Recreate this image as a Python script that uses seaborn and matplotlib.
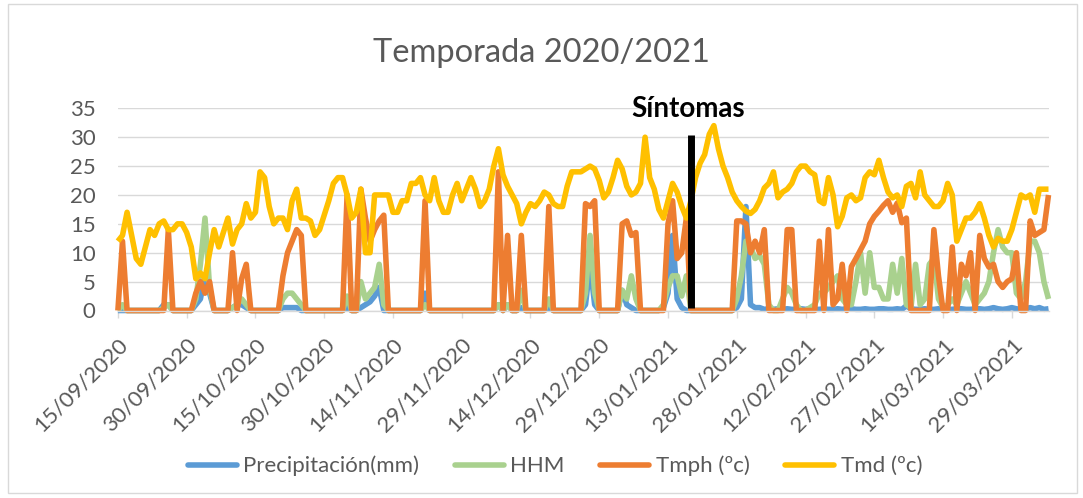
import matplotlib
matplotlib.use("Agg")
import matplotlib.pyplot as plt
import numpy as np
import pandas as pd
import seaborn as sns
from matplotlib.patches import Rectangle
from matplotlib.lines import Line2D

# ---------------- data ----------------
start_date = "2020-09-15"

precip = [
    0, 0, 0, 0, 0, 0, 0, 0, 0, 0,
    1, 1, 0, 0, 0, 0, 0, 1, 2, 6,
    3, 0, 0, 0, 0, 0.5, 1, 1, 0.5, 0,
    0, 0, 0, 0, 0, 0, 0.5, 0.5, 0.5, 0.5,
    0, 0, 0, 0, 0, 0, 0, 0, 0, 0,
    0.5, 0, 0, 0.5, 1, 1.5, 2.5, 4, 0, 0,
    0, 0, 0, 0, 0, 0, 0, 3, 0, 0,
    0, 0, 0, 0, 0, 0, 0, 0, 0, 0,
    0, 0, 0, 1, 0, 1, 0, 0, 0.5, 0,
    0, 0, 0, 0, 0.5, 0, 0, 0, 0, 0,
    0, 0, 1, 8, 1, 0, 0, 0, 0, 0,
    3.5, 1, 0.5, 0, 0, 0, 0, 0, 0, 0.5,
    3, 13, 2, 0.5, 0, 0, 0, 0, 0, 0,
    0, 0, 0, 0, 0, 0.5, 2, 18, 1, 0.5,
    0.5, 0.2, 0.3, 0.2, 0.3, 0.2, 0.3, 0.2, 0.2, 0.3,
    0.2, 0.3, 0.2, 0.2, 0.3, 0.2, 0.2, 0.3, 0.2, 0.3,
    0.3, 0.2, 0.2, 0.3, 0.2, 0.2, 0.3, 0.3, 0.2, 0.2,
    0.3, 0.2, 0.8, 0.3, 0.2, 0.2, 0.3, 0.2, 0.2, 0.3,
    0.3, 0.2, 0.2, 0.3, 0.3, 0.2, 0.2, 0.3, 0.3, 0.2,
    0.3, 0.5, 0.3, 0.2, 0.3, 0.5, 0.3, 0.2, 0.3, 0.5,
    0.3, 0.5, 0.2, 0.3,
]

hhm = [
    0, 1, 0, 0, 0, 0, 0, 0, 0, 0,
    0.5, 1, 0, 0, 0, 0, 0, 2, 8, 16,
    4, 0, 0, 0, 0, 0.5, 1, 2, 1, 0,
    0, 0, 0, 0, 0, 0, 2, 3, 3, 2,
    1, 0, 0, 0, 0, 0, 0, 0, 0, 0,
    2.5, 0, 0, 5, 2, 3, 4, 8, 1, 0,
    0, 0, 0, 0, 0, 0, 0, 1, 0, 0,
    0, 0, 0, 0, 0, 0, 0, 0, 0, 0,
    0, 0, 0, 1, 0, 1, 0, 0, 3.5, 0,
    0, 0, 0, 0, 2, 0, 0, 0, 0, 0,
    0, 0, 3, 13, 3, 0, 0, 0, 0, 0,
    3.5, 2, 6, 2, 0, 0, 0, 0, 0, 1,
    4, 6, 6, 2.5, 6, 0, 0, 0, 0, 0,
    0, 0, 0, 0, 0, 2, 6, 12, 11, 9,
    9.5, 8, 1, 0, 0, 2, 4, 3, 1, 0,
    0, 0.5, 1, 3, 3, 4, 5, 6, 2, 1,
    1, 5, 10, 3, 10, 4, 4, 2, 2, 8,
    3, 9, 1, 0.5, 8, 1, 2, 8, 9, 2,
    0.5, 1, 2, 1, 3, 5, 3, 1, 2, 3,
    5, 10, 14, 11, 10, 10, 3, 2, 5, 12,
    12, 10, 5, 2,
]

tmph = [
    0, 12, 0, 0, 0, 0, 0, 0, 0, 0,
    0, 14, 0, 0, 0, 0, 0, 3, 5, 3,
    5, 0, 0, 0, 0, 10, 0, 5.5, 8, 0,
    0, 0, 0, 0, 0, 0, 6, 10, 12, 14,
    13, 0, 0, 0, 0, 0, 0, 0, 0, 0,
    20, 0, 0, 21, 16, 12, 14, 15.5, 16.5, 0,
    0, 0, 0, 0, 0, 0, 0, 19, 0, 0,
    0, 0, 0, 0, 0, 0, 0, 0, 0, 0,
    0, 0, 0, 24, 0, 13, 0, 0, 13, 0,
    0, 0, 0, 0, 18, 0, 0, 0, 0, 0,
    0, 0, 18.5, 18, 19, 0, 0, 0, 0, 0,
    15, 15.5, 13, 13.5, 0, 0, 0, 0, 0, 0,
    15, 19, 9, 10, 16, 0, 0, 0, 0, 0,
    0, 0, 0, 0, 0, 15.5, 15.5, 15, 10, 12,
    10, 14, 0, 0, 0, 0, 14, 14, 0, 0,
    0, 0, 0, 12, 0, 14, 1, 2, 8, 0,
    7.6, 9, 10.5, 12, 15, 16.3, 17.2, 18.2, 19, 17,
    18.6, 15.2, 16, 0, 0, 0, 0, 0, 14, 6,
    0, 0, 11, 0, 8, 6, 10, 0, 13, 9,
    7.5, 8, 5, 4, 5, 5.5, 10, 0, 0, 15.5,
    13, 13.5, 14, 20,
]

tmd = [
    12, 13, 17, 13, 9, 8, 11, 14, 13, 15,
    15.5, 14, 14, 15, 15, 13.5, 11, 5.5, 6.5, 5.5,
    10, 14, 11, 13.5, 16, 11.5, 14, 15, 18.5, 16,
    17, 24, 23, 18, 15, 16, 16, 14, 19, 21,
    16, 16, 15.5, 13, 14, 16.5, 19, 22, 23, 23,
    20, 16, 17, 21, 10, 10, 20, 20, 20, 20,
    17, 17, 19, 19, 22, 22, 23, 20, 19, 23,
    19, 17, 17, 20, 22, 19, 21, 23, 21, 18,
    19, 21, 25, 28, 23.5, 21.5, 20, 18.5, 15, 17,
    18.5, 18, 19, 20.5, 20, 18.5, 18, 18, 21.5, 24,
    24, 24, 24.5, 25, 24.5, 22.5, 19.5, 20.5, 23, 26,
    24.5, 21.5, 20, 20.5, 22, 30, 23, 21, 17.5, 16,
    19, 22, 20.5, 18, 16, 19, 23, 25.5, 27, 30.5,
    32, 28, 25, 23, 20.5, 19, 18, 17.2, 16.8, 17.5,
    19, 21.2, 22, 24, 19.5, 20.5, 21, 22, 24, 25,
    25, 24, 23.5, 19, 18.5, 23, 20, 14.5, 16.3, 19.5,
    20, 19, 19.5, 23, 24, 23.5, 26, 23, 20.5, 19.5,
    20, 18, 21.5, 22, 19.5, 24, 20, 19, 18, 18,
    19, 22, 20, 12, 14, 16, 16, 17, 18.5, 16,
    13, 11, 12.5, 12, 12, 14, 17, 20, 19.5, 20,
    17, 21, 21, 21,
]

series_names = ["Precipitación(mm)", "HHM", "Tmph (ºc)", "Tmd (ºc)"]
series_colors = ["#5B9BD5", "#A9D18E", "#ED7D31", "#FFC000"]

tick_labels = ["15/09/2020", "30/09/2020", "15/10/2020", "30/10/2020",
               "14/11/2020", "29/11/2020", "14/12/2020", "29/12/2020",
               "13/01/2021", "28/01/2021", "12/02/2021", "27/02/2021",
               "14/03/2021", "29/03/2021"]
y_ticks = [0, 5, 10, 15, 20, 25, 30, 35]

title_text = "Temporada 2020/2021"
symptom_label = "Síntomas"
symptom_date = "2021-01-18"
symptom_low, symptom_high = 0.4, 30.3

# ---------------- figure ----------------
sns.set_theme(style="white")
plt.rcParams["font.family"] = ["Lato", "DejaVu Sans"]

W, H = 1083, 498
fig = plt.figure(figsize=(W / 100, H / 100), dpi=100)
fig.patch.set_facecolor("white")

ax_left, ax_right = 117.9, 1048.5
ax_top, ax_bottom = 108.3, 310.5
ax = fig.add_axes([ax_left / W, 1 - ax_bottom / H,
                   (ax_right - ax_left) / W, (ax_bottom - ax_top) / H])

dates = pd.date_range(start_date, periods=len(tmd), freq="D")
df = pd.DataFrame({"Fecha": dates,
                   series_names[0]: precip,
                   series_names[1]: hhm,
                   series_names[2]: tmph,
                   series_names[3]: tmd})
long_df = df.melt(id_vars="Fecha", var_name="Serie", value_name="Valor")

sns.lineplot(data=long_df, x="Fecha", y="Valor", hue="Serie",
             hue_order=series_names, palette=series_colors,
             linewidth=4.0, estimator=None, sort=False, legend=False, ax=ax)
for ln in ax.lines:
    ln.set_solid_joinstyle("round")
    ln.set_solid_capstyle("butt")
    ln.set_clip_on(False)

# symptom marker
ax.vlines(pd.Timestamp(symptom_date), symptom_low, symptom_high,
          color="black", linewidth=5, zorder=5)
ax.text(pd.Timestamp(symptom_date) - pd.Timedelta(days=0.7), 33.55, symptom_label,
        ha="center", va="baseline", fontsize=20, fontweight="bold",
        color="black", zorder=6)

# axes styling
ax.set_xlim(dates[0], dates[-1])
ax.set_ylim(0, 35)
ax.set_yticks(y_ticks)
ax.set_yticklabels([str(v) for v in y_ticks])
tick_dates = pd.to_datetime(tick_labels, format="%d/%m/%Y")
ax.set_xticks(tick_dates)
ax.set_xticklabels(tick_labels, rotation=45, ha="right", va="top",
                   rotation_mode="anchor")
ax.set_xlabel("")
ax.set_ylabel("")

ax.yaxis.grid(True, color="#d9d9d9", linewidth=1.0)
ax.xaxis.grid(False)
ax.set_axisbelow(True)
for side in ["left", "right", "top"]:
    ax.spines[side].set_visible(False)
ax.spines["bottom"].set_color("#d9d9d9")
ax.spines["bottom"].set_linewidth(1.0)
ax.tick_params(axis="x", direction="out", length=5, width=1, color="#d9d9d9",
               labelsize=16, labelcolor="#595959", pad=12, bottom=True)
ax.tick_params(axis="y", length=0, labelsize=16, labelcolor="#595959", pad=16)

fig.text(0.5, 1 - 53 / H, title_text, ha="center", va="center",
         fontsize=23.5, color="#595959")

handles = [Line2D([], [], color=c, linewidth=4, solid_capstyle="round")
           for c in series_colors]
fig.legend(handles, series_names, loc="center",
           bbox_to_anchor=(555 / W, 1 - 466 / H), ncol=4, frameon=False,
           fontsize=16, handlelength=2.2, handletextpad=0.3,
           columnspacing=1.6, labelcolor="#595959")

fig.patches.append(Rectangle((8 / W, 1 - 493 / H), (1077 - 8) / W, (493 - 4) / H,
                             transform=fig.transFigure, fill=False,
                             edgecolor="#d9d9d9", linewidth=1.0))

fig.savefig("out.png", dpi=100, facecolor="white")
